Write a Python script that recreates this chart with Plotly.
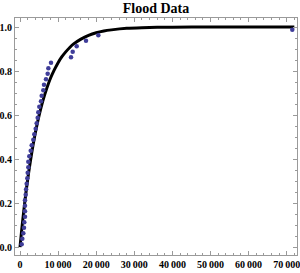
import plotly.graph_objects as go

# Empirical points (flood data)
flood_x = [440, 610, 870, 1050, 1130, 1310, 1310, 1310, 1310, 1500,
           1600, 1750, 1920, 2020, 2180, 2180, 2440, 2810, 3070, 3490,
           3750, 4120, 4380, 4640, 4800, 5070, 5510, 5690, 6120, 6300,
           6820, 7260, 7440, 8140, 13390, 13830, 14880, 17320, 20560, 71460]
flood_y = [0.0125, 0.0375, 0.0625, 0.0875, 0.1125, 0.1375, 0.1625, 0.1875, 0.2125, 0.2375,
           0.2625, 0.2875, 0.3125, 0.3375, 0.3625, 0.3875, 0.4125, 0.4375, 0.4625, 0.4875,
           0.5125, 0.5375, 0.5625, 0.5875, 0.6125, 0.6375, 0.6625, 0.6875, 0.7125, 0.7375,
           0.7625, 0.7875, 0.8125, 0.8375, 0.8625, 0.8875, 0.9125, 0.9375, 0.9625, 0.9875]

# Fitted CDF curve
fit_x = [0, 500, 1000, 1500, 2000, 2500, 3000, 3500, 4000, 4500, 5000, 6000, 7000, 8000,
         9000, 10000, 11000, 12000, 13000, 14000, 16000, 18000, 20000, 22000, 24000,
         28000, 32000, 36000, 40000, 50000, 60000, 72000]
fit_y = [0.0, 0.087, 0.166, 0.239, 0.305, 0.365, 0.420, 0.471, 0.517, 0.559, 0.597,
         0.664, 0.720, 0.767, 0.805, 0.838, 0.865, 0.887, 0.906, 0.922, 0.945, 0.962,
         0.974, 0.982, 0.987, 0.994, 0.997, 0.9985, 0.999, 1.0, 1.0, 1.0]

x_tickvals = [0, 10000, 20000, 30000, 40000, 50000, 60000, 70000]
x_ticktext = ["0", "10\u2009000", "20\u2009000", "30\u2009000", "40\u2009000",
              "50\u2009000", "60\u2009000", "70\u2009000"]
y_tickvals = [0.0, 0.2, 0.4, 0.6, 0.8, 1.0]
y_ticktext = ["0.0", "0.2", "0.4", "0.6", "0.8", "1.0"]

fig = go.Figure()
fig.add_trace(go.Scatter(x=fit_x, y=fit_y, mode="lines",
                         line=dict(color="black", width=3, shape="spline", smoothing=0.6),
                         showlegend=False))
fig.add_trace(go.Scatter(x=flood_x, y=flood_y, mode="markers",
                         marker=dict(color="#3f3d99", size=4.5),
                         showlegend=False, cliponaxis=False))

tickfont = dict(family="Liberation Serif", size=10, color="black", weight="bold")
axis_common = dict(
    showgrid=False, zeroline=False, showline=True, linecolor="#9a9a9a", linewidth=1,
    mirror="allticks", ticks="inside", ticklen=4, tickcolor="#9a9a9a", tickwidth=1,
    tickfont=tickfont, automargin=False, ticklabeloverflow="allow",
)

fig.update_xaxes(range=[-1312, 72700], tickmode="array", tickvals=x_tickvals,
                 ticktext=x_ticktext,
                 minor=dict(dtick=2000, ticks="inside", ticklen=2, tickcolor="#9a9a9a"),
                 **axis_common)
fig.update_yaxes(range=[-0.036, 1.041], tickmode="array", tickvals=y_tickvals,
                 ticktext=y_ticktext,
                 minor=dict(dtick=0.05, ticks="inside", ticklen=2, tickcolor="#9a9a9a"),
                 **axis_common)

fig.update_layout(
    width=300, height=273,
    margin=dict(l=15, r=3, t=18, b=18),
    paper_bgcolor="white", plot_bgcolor="white",
    title=dict(text="<b>Flood Data</b>", x=0.52, xanchor="center", y=0.972, yanchor="middle",
               font=dict(family="Liberation Serif", size=14, color="black")),
)

fig.write_html("out.html", config={"displayModeBar": False},
               post_script="document.body.style.margin='0';document.body.style.overflow='hidden';")
